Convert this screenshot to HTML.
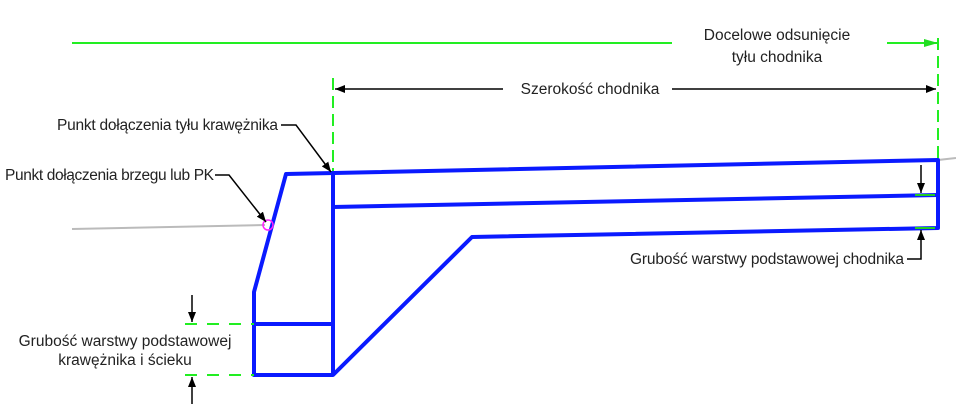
<!DOCTYPE html>
<html><head><meta charset="utf-8"><style>html,body{margin:0;padding:0;background:#fff}svg{display:block}text{font-family:"Liberation Sans",sans-serif;font-size:15.5px;fill:#222}</style></head><body>
<svg width="956" height="411" viewBox="0 0 956 411" xmlns="http://www.w3.org/2000/svg">
<defs>
<marker id="ab" markerWidth="10" markerHeight="8" refX="10" refY="4" orient="auto" markerUnits="userSpaceOnUse"><path d="M0,0 L10,4 L0,8 Z" fill="#000"/></marker>
<marker id="ag" markerWidth="14" markerHeight="8" refX="14" refY="4" orient="auto" markerUnits="userSpaceOnUse"><path d="M0,0 L14,4 L0,8 Z" fill="#22dd22"/></marker>
</defs>
<line x1="72" y1="43" x2="672" y2="43" stroke="#22ee22" stroke-width="2"/>
<line x1="887" y1="43" x2="938" y2="43" stroke="#22ee22" stroke-width="2" marker-end="url(#ag)"/>
<line x1="938" y1="38" x2="938" y2="160" stroke="#22ee22" stroke-width="2" stroke-dasharray="12,6"/>
<line x1="333" y1="78" x2="333" y2="172" stroke="#22ee22" stroke-width="2" stroke-dasharray="12,6"/>
<text x="777" y="40" text-anchor="middle">Docelowe odsunięcie</text>
<text x="777" y="62" text-anchor="middle">tyłu chodnika</text>
<line x1="503" y1="89" x2="335" y2="89" stroke="#000" stroke-width="1.5" marker-end="url(#ab)"/>
<line x1="672" y1="89" x2="936" y2="89" stroke="#000" stroke-width="1.5" marker-end="url(#ab)"/>
<text x="590" y="94" text-anchor="middle">Szerokość chodnika</text>
<line x1="72" y1="229" x2="265" y2="225" stroke="#bbb" stroke-width="2"/>
<line x1="938" y1="160" x2="956" y2="158" stroke="#bbb" stroke-width="2"/>
<g stroke="#0a1aff" stroke-width="4" fill="none" stroke-linejoin="round">
<path d="M254,375 L254,292 L286,174 L938,160 L938,228 L472,237 L333,375 Z"/>
<line x1="333" y1="174" x2="333" y2="375"/>
<line x1="333" y1="207" x2="938" y2="195"/>
<line x1="254" y1="324" x2="333" y2="324"/>
</g>
<circle cx="268" cy="225" r="5" fill="none" stroke="#ff22ff" stroke-width="1.5"/>
<text x="57" y="130" textLength="221">Punkt dołączenia tyłu krawężnika</text>
<path d="M281,125 L296,125 L331,172" stroke="#000" stroke-width="1.5" fill="none" marker-end="url(#ab)"/>
<text x="5" y="180" textLength="209">Punkt dołączenia brzegu lub PK</text>
<path d="M215,175 L229,175 L266,222" stroke="#000" stroke-width="1.5" fill="none" marker-end="url(#ab)"/>
<line x1="185" y1="324" x2="254" y2="324" stroke="#22ee22" stroke-width="2" stroke-dasharray="12,10"/>
<line x1="185" y1="375" x2="254" y2="375" stroke="#22ee22" stroke-width="2" stroke-dasharray="12,10"/>
<line x1="192" y1="295" x2="192" y2="322" stroke="#000" stroke-width="1.5" marker-end="url(#ab)"/>
<line x1="192" y1="404" x2="192" y2="377" stroke="#000" stroke-width="1.5" marker-end="url(#ab)"/>
<text x="125" y="346" text-anchor="middle">Grubość warstwy podstawowej</text>
<text x="125" y="365" text-anchor="middle">krawężnika i ścieku</text>
<line x1="915" y1="195" x2="935" y2="195" stroke="#22cc22" stroke-width="2"/>
<line x1="915" y1="228" x2="935" y2="228" stroke="#22cc22" stroke-width="2"/>
<line x1="921" y1="165" x2="921" y2="193" stroke="#000" stroke-width="1.5" marker-end="url(#ab)"/>
<path d="M907,259 L921,259 L921,230" stroke="#000" stroke-width="1.5" fill="none" marker-end="url(#ab)"/>
<text x="630" y="264" textLength="274">Grubość warstwy podstawowej chodnika</text>
</svg>
</body></html>
